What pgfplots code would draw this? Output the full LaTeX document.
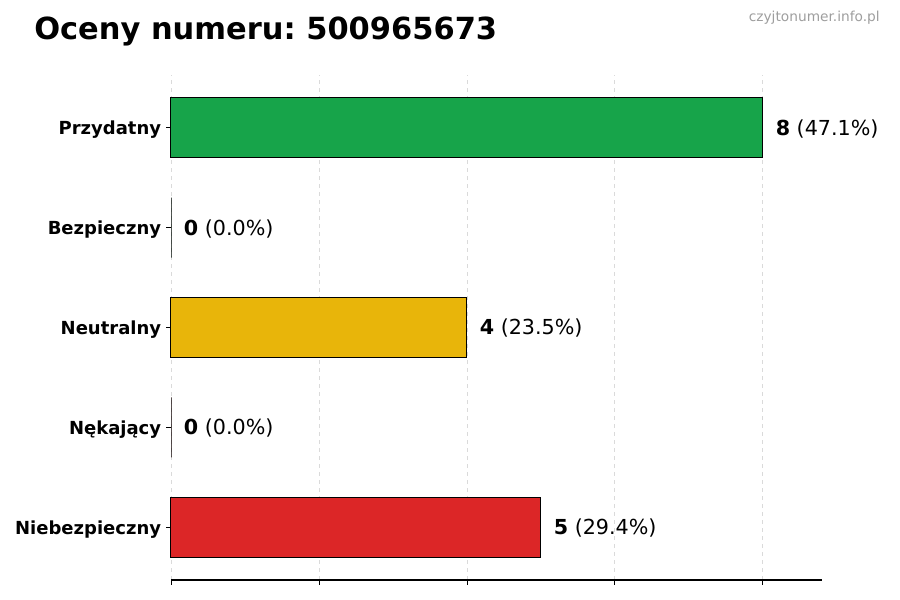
\documentclass[border=0pt]{standalone}
\usepackage{pgfplots}
\pgfplotsset{compat=1.18}
\usepackage{fontspec}
\setmainfont{DejaVu Sans}
\frenchspacing
\definecolor{cgreen}{RGB}{23,164,74}
\definecolor{cyellow}{RGB}{232,181,10}
\definecolor{cred}{RGB}{220,38,39}
\definecolor{cgridc}{RGB}{218,218,218}
\begin{document}
\begin{tikzpicture}[x=1pt,y=1pt]
\path[use as bounding box] (0,0) rectangle (675,450);
\node[anchor=base west, inner sep=0pt, font=\bfseries\fontsize{22.85}{26}\selectfont] at (25.5,420.5) {Oceny numeru: 500965673};
\node[anchor=base east, inner sep=0pt, text=black!38, font=\fontsize{10.3}{12}\selectfont] at (660,434) {czyjtonumer.info.pl};
\begin{axis}[
    at={(128.25pt,15pt)}, anchor=south west,
    scale only axis, width=488.25pt, height=378.75pt,
    xbar, bar width=45pt, bar shift=0pt,
    xmin=0, xmax=8.8, ymin=-0.53, ymax=4.53,
    axis x line*=bottom, axis y line*=left,
    y axis line style={draw=none},
    x axis line style={line width=0.75pt, -},
    xtick={0,2,4,6,8}, xticklabels={},
    ytick={0,1,2,3,4},
    yticklabels={Niebezpieczny,Nękający,Neutralny,Bezpieczny,Przydatny},
    yticklabel style={font=\bfseries\fontsize{13.5}{15}\selectfont, inner sep=0pt, xshift=-3.6pt, yshift=-1.5pt},
    tick align=outside, major tick length=3.6pt,
    tick style={line width=0.6pt, black},
    xmajorgrids,
    grid style={dashed, cgridc, line width=0.6pt},
    clip=false,
]
\addplot[fill=cgreen, draw=black, line width=0.75pt] coordinates {(8,4)};
\addplot[fill=cgreen, draw=black, line width=0.6pt] coordinates {(0,3)};
\addplot[fill=cyellow, draw=black, line width=0.75pt] coordinates {(4,2)};
\addplot[fill=cred, draw=black, line width=0.6pt] coordinates {(0,1)};
\addplot[fill=cred, draw=black, line width=0.75pt] coordinates {(5,0)};
\begin{scope}[every node/.style={anchor=west, inner sep=0pt, xshift=9.5pt, yshift=-0.75pt, font=\fontsize{15.5}{18}\selectfont}]
\node at (axis cs:8,4) {\textbf{8} (47.1\%)};
\node at (axis cs:0,3) {\textbf{0} (0.0\%)};
\node at (axis cs:4,2) {\textbf{4} (23.5\%)};
\node at (axis cs:0,1) {\textbf{0} (0.0\%)};
\node at (axis cs:5,0) {\textbf{5} (29.4\%)};
\end{scope}
\end{axis}
\end{tikzpicture}
\end{document}
